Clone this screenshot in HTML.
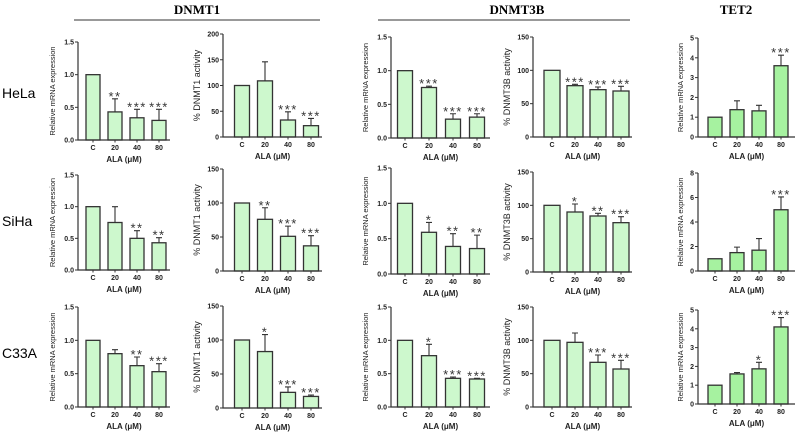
<!DOCTYPE html>
<html><head><meta charset="utf-8">
<style>
html,body{margin:0;padding:0;background:#fff;}
svg{display:block;font-family:"Liberation Sans",Arial,sans-serif;}
</style></head>
<body>
<svg id="fig" width="800" height="437" viewBox="0 0 800 437">
<text x="197" y="14" font-family="Liberation Serif" font-weight="bold" font-size="13" text-anchor="middle">DNMT1</text>
<line x1="74" y1="20" x2="320" y2="20" stroke="#333" stroke-width="1"/>
<text x="517" y="14" font-family="Liberation Serif" font-weight="bold" font-size="13" text-anchor="middle">DNMT3B</text>
<line x1="378" y1="20" x2="630" y2="20" stroke="#333" stroke-width="1"/>
<text x="736" y="14" font-family="Liberation Serif" font-weight="bold" font-size="13" text-anchor="middle">TET2</text>
<text x="2" y="98" font-size="14">HeLa</text>
<text x="2" y="226" font-size="14">SiHa</text>
<text x="2" y="358" font-size="14">C33A</text>
</svg>
<script>
const categories = ["C","20","40","80"];
// row 1 HeLa
const helaDnmt1Mrna = [1,0.43,0.34,0.30];
const helaDnmt1MrnaErr = [0,0.2,0.13,0.17];
const helaDnmt1MrnaSig = ["","**","***","***"];
const helaDnmt1Act = [100,109,33,22];
const helaDnmt1ActErr = [0,37,16,14];
const helaDnmt1ActSig = ["","","***","***"];
const helaDnmt3bMrna = [1,0.75,0.28,0.31];
const helaDnmt3bMrnaErr = [0,0.02,0.08,0.05];
const helaDnmt3bMrnaSig = ["","***","***","***"];
const helaDnmt3bAct = [100,77,71,69];
const helaDnmt3bActErr = [0,2,4,7];
const helaDnmt3bActSig = ["","***","***","***"];
const helaTet2 = [1,1.38,1.32,3.6];
const helaTet2Err = [0,0.45,0.28,0.53];
const helaTet2Sig = ["","","","***"];
// row 2 SiHa
const sihaDnmt1Mrna = [1,0.75,0.5,0.43];
const sihaDnmt1MrnaErr = [0,0.25,0.12,0.08];
const sihaDnmt1MrnaSig = ["","","**","**"];
const sihaDnmt1Act = [100,76,51,37];
const sihaDnmt1ActErr = [0,17,15,15];
const sihaDnmt1ActSig = ["","**","***","***"];
const sihaDnmt3bMrna = [1,0.59,0.39,0.36];
const sihaDnmt3bMrnaErr = [0,0.14,0.18,0.19];
const sihaDnmt3bMrnaSig = ["","*","**","**"];
const sihaDnmt3bAct = [100,90,84,74];
const sihaDnmt3bActErr = [0,12,4,9];
const sihaDnmt3bActSig = ["","*","**","***"];
const sihaTet2 = [1,1.5,1.7,5.0];
const sihaTet2Err = [0,0.45,0.95,1.05];
const sihaTet2Sig = ["","","","***"];
// row 3 C33A
const c33aDnmt1Mrna = [1,0.8,0.62,0.53];
const c33aDnmt1MrnaErr = [0,0.06,0.13,0.12];
const c33aDnmt1MrnaSig = ["","","**","***"];
const c33aDnmt1Act = [100,83,23,17];
const c33aDnmt1ActErr = [0,25,8,2];
const c33aDnmt1ActSig = ["","*","***","***"];
const c33aDnmt3bMrna = [1,0.77,0.43,0.42];
const c33aDnmt3bMrnaErr = [0,0.17,0.02,0.01];
const c33aDnmt3bMrnaSig = ["","*","***","***"];
const c33aDnmt3bAct = [100,97,67,57];
const c33aDnmt3bActErr = [0,14,11,13];
const c33aDnmt3bActSig = ["","","***","***"];
const c33aTet2 = [1,1.6,1.87,4.1];
const c33aTet2Err = [0,0.07,0.35,0.5];
const c33aTet2Sig = ["","","*","***"];
// tick labels
const ticksMrna = ["0.0","0.5","1.0","1.5"];
const ticksAct200 = ["0","50","100","150","200"];
const ticksAct150 = ["0","50","100","150"];
const ticksTet5 = ["0","1","2","3","4","5"];
const ticksTet8 = ["0","2","4","6","8"];

const NS="http://www.w3.org/2000/svg";
const svg=document.getElementById('fig');
function mk(tag,attrs,parent){const e=document.createElementNS(NS,tag);for(const k in attrs)e.setAttribute(k,attrs[k]);(parent||svg).appendChild(e);return e;}

const cols=[
 {ax:78, off:15, step:22, w:14, end:170, tx:55},
 {ax:223, off:19, step:23, w:15, end:322, tx:200},
 {ax:391, off:14, step:24, w:15, end:490, tx:368},
 {ax:533, off:19, step:23, w:16, end:632, tx:510},
 {ax:698, off:17, step:22, w:14, end:795, tx:683}
];
const rows=[
 [[42,140],[34,137],[37,138],[37,137],[38,137]],
 [[175,270],[169,271],[168,274],[172,272],[173,271]],
 [[307,407],[306,408],[307,407],[307,407],[310,404]]
];
const panels=[
 [[helaDnmt1Mrna,helaDnmt1MrnaErr,helaDnmt1MrnaSig,ticksMrna,"Relative mRNA expression"],
  [helaDnmt1Act,helaDnmt1ActErr,helaDnmt1ActSig,ticksAct200,"% DNMT1 activity"],
  [helaDnmt3bMrna,helaDnmt3bMrnaErr,helaDnmt3bMrnaSig,ticksMrna,"Relative mRNA expression"],
  [helaDnmt3bAct,helaDnmt3bActErr,helaDnmt3bActSig,ticksAct150,"% DNMT3B activity"],
  [helaTet2,helaTet2Err,helaTet2Sig,ticksTet5,"Relative mRNA expression"]],
 [[sihaDnmt1Mrna,sihaDnmt1MrnaErr,sihaDnmt1MrnaSig,ticksMrna,"Relative mRNA expression"],
  [sihaDnmt1Act,sihaDnmt1ActErr,sihaDnmt1ActSig,ticksAct150,"% DNMT1 activity"],
  [sihaDnmt3bMrna,sihaDnmt3bMrnaErr,sihaDnmt3bMrnaSig,ticksMrna,"Relative mRNA expression"],
  [sihaDnmt3bAct,sihaDnmt3bActErr,sihaDnmt3bActSig,ticksAct150,"% DNMT3B activity"],
  [sihaTet2,sihaTet2Err,sihaTet2Sig,ticksTet8,"Relative mRNA expression"]],
 [[c33aDnmt1Mrna,c33aDnmt1MrnaErr,c33aDnmt1MrnaSig,ticksMrna,"Relative mRNA expression"],
  [c33aDnmt1Act,c33aDnmt1ActErr,c33aDnmt1ActSig,ticksAct150,"% DNMT1 activity"],
  [c33aDnmt3bMrna,c33aDnmt3bMrnaErr,c33aDnmt3bMrnaSig,ticksMrna,"Relative mRNA expression"],
  [c33aDnmt3bAct,c33aDnmt3bActErr,c33aDnmt3bActSig,ticksAct150,"% DNMT3B activity"],
  [c33aTet2,c33aTet2Err,c33aTet2Sig,ticksTet5,"Relative mRNA expression"]]
];
const rowNames=["hela","siha","c33a"];
const colNames=["dnmt1-mrna","dnmt1-activity","dnmt3b-mrna","dnmt3b-activity","tet2-mrna"];

panels.forEach((row,r)=>row.forEach((p,c)=>{
  const [vals,errs,sig,ticks,title]=p;
  const col=cols[c];const [yt,yb]=rows[r][c];
  const g=mk('g',{});
  
  
  const maxV=parseFloat(ticks[ticks.length-1]);
  const y=v=>yb-(v/maxV)*(yb-yt);
  const xc=i=>col.ax+col.off+i*col.step;
  const fill=c===4?'#a6f2a0':'#cdf8cd';
  vals.forEach((v,i)=>{
    const b=mk('rect',{x:xc(i)-col.w/2,y:y(v),width:col.w,height:yb-y(v),fill:fill,stroke:'#333','stroke-width':1.3},g);
    
    
    const top=y(v+errs[i]);
    if(errs[i]>0){
      const e=mk('path',{d:`M${xc(i)} ${y(v)}V${top}M${xc(i)-3} ${top}H${xc(i)+3}`,stroke:'#333','stroke-width':1.1,fill:'none'},g);
      
      
    }
    if(sig[i]){
      const s=mk('text',{x:xc(i),y:top+2,'font-size':13,'text-anchor':'middle','letter-spacing':'1.5',fill:'#333'},g);
      s.textContent=sig[i];
      
      
    }
    const l=mk('text',{x:xc(i),y:yb+10,'font-size':7,'font-weight':'bold','text-anchor':'middle',fill:'#222'},g);
    l.textContent=categories[i];
    
    
  });
  const ax=mk('path',{d:`M${col.ax} ${yt}V${yb}H${col.end}`,stroke:'#333','stroke-width':1.2,fill:'none'},g);
  
  
  ticks.forEach((t,k)=>{
    const ty=y(parseFloat(t));
    mk('line',{x1:col.ax-3,x2:col.ax,y1:ty,y2:ty,stroke:'#333','stroke-width':1},g);
    const tl=mk('text',{x:col.ax-4,y:ty+2.5,'font-size':7,'font-weight':'bold','text-anchor':'end',fill:'#222'},g);
    tl.textContent=t;
    
    
  });
  categories.forEach((_,i)=>mk('line',{x1:xc(i),x2:xc(i),y1:yb,y2:yb+2.5,stroke:'#333','stroke-width':1},g));
  const xt=mk('text',{x:(col.ax+col.end)/2,y:yb+22,'font-size':8,'font-weight':'bold','text-anchor':'middle',fill:'#222'},g);
  xt.textContent='ALA (μM)';
  
  
  const isAct=title.startsWith('%');
  const yc=(yt+yb)/2;
  const yti=mk('text',{x:col.tx,y:yc,'font-size':isAct?9:7.5,'text-anchor':'middle',fill:'#222',transform:`rotate(-90 ${col.tx} ${yc})`},g);
  yti.textContent=title;
  
  
}));
</script>
</body></html>
